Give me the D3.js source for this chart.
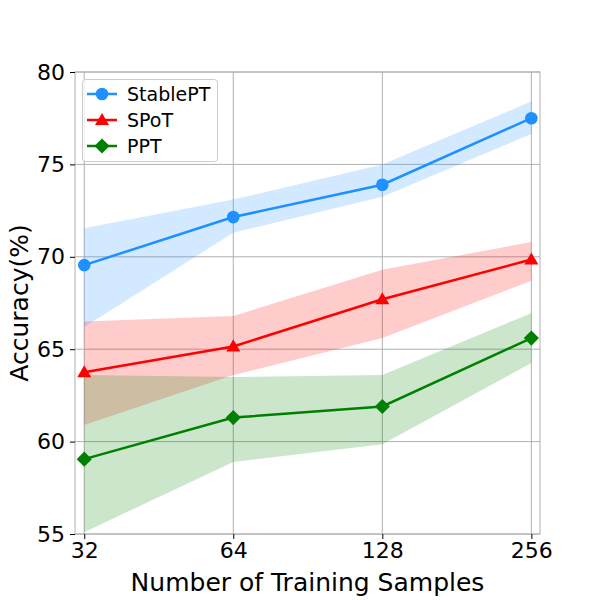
<!DOCTYPE html>
<html>
<head>
<meta charset="utf-8">
<script src="https://cdn.jsdelivr.net/npm/d3@7"></script>
<style>
  body { margin: 0; background: #fff; }
  text { font-family: "DejaVu Sans", sans-serif; }
</style>
</head>
<body>
<script>
const samples = [32, 64, 128, 256];
const yTicks = [55, 60, 65, 70, 75, 80];

const stableMean = [69.55, 72.15, 73.9, 77.5];
const stableLow = [66.2, 71.3, 73.25, 76.65];
const stableHigh = [71.55, 73.1, 75.0, 78.4];

const spotMean = [63.75, 65.15, 67.7, 69.85];
const spotLow = [60.9, 63.6, 65.6, 68.7];
const spotHigh = [66.5, 66.8, 69.3, 70.8];

const pptMean = [59.05, 61.3, 61.9, 65.6];
const pptLow = [55.1, 58.9, 59.85, 64.25];
const pptHigh = [63.6, 63.5, 63.6, 66.95];

const series = [
  {name: "StablePT", color: "#1e90ff", mean: stableMean, low: stableLow, high: stableHigh, marker: "circle"},
  {name: "SPoT", color: "#ff0000", mean: spotMean, low: spotLow, high: spotHigh, marker: "triangle"},
  {name: "PPT", color: "#008000", mean: pptMean, low: pptLow, high: pptHigh, marker: "diamond"}
];

const width = 600, height = 600;
const mLeft = 75, mRight = 540, mTop = 72, mBottom = 534;

const svg = d3.select("body").append("svg")
  .attr("width", width)
  .attr("height", height);

const x = d3.scaleLog().base(2)
  .domain([32 / Math.pow(2, 0.062), 256 * Math.pow(2, 0.058)])
  .range([mLeft, mRight]);
const y = d3.scaleLinear().domain([55, 80]).range([mBottom, mTop]);

// grid
const grid = svg.append("g").attr("stroke", "#b0b0b0").attr("stroke-width", 1);
samples.forEach(s => grid.append("line")
  .attr("x1", x(s)).attr("x2", x(s)).attr("y1", mTop).attr("y2", mBottom));
yTicks.forEach(t => grid.append("line")
  .attr("x1", mLeft).attr("x2", mRight).attr("y1", y(t)).attr("y2", y(t)));

// bands
const area = d3.area()
  .x((d, i) => x(samples[i]))
  .y0(d => y(d[0]))
  .y1(d => y(d[1]));
series.forEach(s => {
  svg.append("path")
    .datum(s.low.map((v, i) => [v, s.high[i]]))
    .attr("d", area)
    .attr("fill", s.color)
    .attr("fill-opacity", 0.2);
});

// frame
svg.append("rect")
  .attr("x", mLeft).attr("y", mTop)
  .attr("width", mRight - mLeft).attr("height", mBottom - mTop)
  .attr("fill", "none").attr("stroke", "#b0b0b0").attr("stroke-width", 1);

// axes
const xAxis = d3.axisBottom(x).tickValues(samples).tickFormat(d3.format("d"))
  .tickSize(5).tickPadding(3);
const gx = svg.append("g").attr("transform", `translate(0,${mBottom})`).call(xAxis);
const yAxis = d3.axisLeft(y).tickValues(yTicks).tickSize(5).tickPadding(5);
const gy = svg.append("g").attr("transform", `translate(${mLeft},0)`).call(yAxis);
[gx, gy].forEach(g => {
  g.select(".domain").remove();
  g.selectAll(".tick line").attr("stroke", "#000").attr("stroke-width", 1);
  g.selectAll(".tick text").attr("fill", "#000")
    .style("font-family", "DejaVu Sans").style("font-size", "22px");
});

// lines and markers
const line = d3.line().x((d, i) => x(samples[i])).y(d => y(d));
const symbols = {
  circle: d3.symbol().type(d3.symbolCircle).size(125),
  triangle: d3.symbol().type(d3.symbolTriangle).size(85),
  diamond: d3.symbol().type(d3.symbolSquare).size(115)
};
function drawMarker(g, type, cx, cy, color) {
  const p = g.append("path")
    .attr("d", symbols[type]())
    .attr("fill", color);
  if (type === "diamond") p.attr("transform", `translate(${cx},${cy}) rotate(45)`);
  else if (type === "triangle") p.attr("transform", `translate(${cx},${cy + 1})`);
  else p.attr("transform", `translate(${cx},${cy})`);
}
series.forEach(s => {
  svg.append("path")
    .datum(s.mean)
    .attr("d", line)
    .attr("fill", "none")
    .attr("stroke", s.color)
    .attr("stroke-width", 2.5);
  const g = svg.append("g");
  s.mean.forEach((v, i) => drawMarker(g, s.marker, x(samples[i]), y(v), s.color));
});

// axis labels
svg.append("text")
  .attr("x", (mLeft + mRight) / 2).attr("y", 591)
  .attr("text-anchor", "middle")
  .style("font-size", "25px")
  .text("Number of Training Samples");
svg.append("text")
  .attr("transform", `translate(28,${(mTop + mBottom) / 2}) rotate(-90)`)
  .attr("text-anchor", "middle")
  .style("font-size", "25px")
  .text("Accuracy(%)");

// legend
const lg = svg.append("g");
lg.append("rect")
  .attr("x", 82.5).attr("y", 79.5).attr("width", 135).attr("height", 82)
  .attr("rx", 3)
  .attr("fill", "#fff").attr("fill-opacity", 0.8)
  .attr("stroke", "#cccccc");
series.forEach((s, i) => {
  const ly = 94 + i * 26;
  lg.append("line")
    .attr("x1", 87).attr("x2", 117).attr("y1", ly).attr("y2", ly)
    .attr("stroke", s.color).attr("stroke-width", 2.5);
  drawMarker(lg, s.marker, 102, ly, s.color);
  lg.append("text")
    .attr("x", 127).attr("y", ly + 7)
    .style("font-size", "19px")
    .text(s.name);
});
</script>
</body>
</html>
